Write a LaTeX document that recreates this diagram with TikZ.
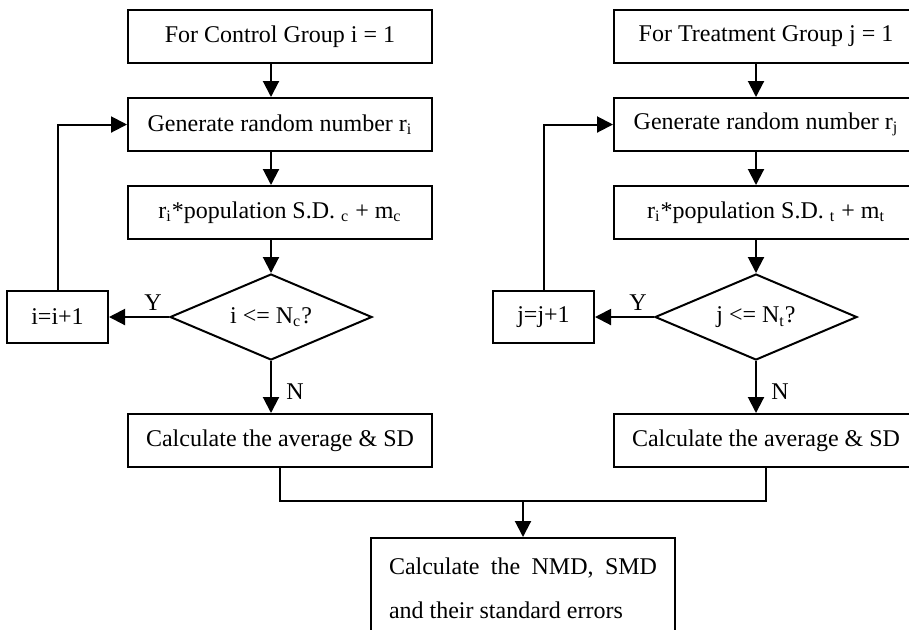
\documentclass[tikz,border=0pt]{standalone}
\usepackage{fontspec}
\setmainfont{Liberation Serif}
\usetikzlibrary{shapes.geometric}
\usetikzlibrary{arrows.meta}

\tikzset{
  txt/.style={font=\fontsize{12}{14.4}\selectfont},
  proc/.style={txt, draw, line width=1pt, minimum width=152pt, minimum height=26.5pt, inner sep=0pt},
  incbox/.style={proc, minimum width=50.5pt, minimum height=26pt},
  test/.style={txt, draw, diamond, line width=1pt, aspect=2.35, minimum width=101pt, minimum height=43pt, inner sep=0pt},
  arr/.style={line width=1pt, -{Triangle[length=8pt,width=8pt]}},
  wire/.style={line width=1pt}
}

\begin{document}
\begin{tikzpicture}[x=0.5pt,y=-0.5pt]
\useasboundingbox (0,0) rectangle (909,629);
\clip (0,0) rectangle (909,629);
% one column for each group
\foreach \g/\grp/\x/\sx/\ix/\v/\n in {c/Control/280/271/57.5/i/c, t/Treatment/766/756/543.5/j/t} {
\node[proc] (top\g) at (\x,36.5) {For \grp{} Group \v{} = 1};
\node[proc] (rand\g) at (\x,124.5) {Generate random number r\textsubscript{\v}};
\node[proc] (val\g) at (\x,212.5) {r\textsubscript{i}*population S.D.\ \textsubscript{\n} + m\textsubscript{\n}};
\node[test] (dec\g) at (\sx,317) {\v{} <= N\textsubscript{\n}?};
\node[incbox] (inc\g) at (\ix,317) {\v=\v+1};
\node[proc] (avg\g) at (\x,440.5) {Calculate the average \& SD};
\node[txt] (y\g) at (\sx-118,303) {Y};
\node[txt] (n\g) at (\sx+24,392) {N};
% arrows down the column
\draw[arr] (top\g.south -| dec\g) -- (rand\g.north -| dec\g);
\draw[arr] (rand\g.south -| dec\g) -- (val\g.north -| dec\g);
\draw[arr] (val\g.south -| dec\g) -- (dec\g.north);
\draw[arr] (dec\g.south) -- (avg\g.north -| dec\g);
% loop back
\draw[arr] (dec\g.west) -- (inc\g.east);
\draw[arr] (inc\g.north) |- (rand\g.west);
}
% final step
\node[proc, anchor=north, text width=134pt, align=justify, inner xsep=9pt, inner ysep=9.8pt,
  font=\fontsize{12}{22}\selectfont] (stats) at (523,537) {Calculate the NMD, SMD and their standard errors};
\coordinate (join) at (523,501);
\draw[wire] (avgc.south) |- (join) -| (avgt.south);
\draw[arr] (join) -- (stats.north);
\end{tikzpicture}
\end{document}
